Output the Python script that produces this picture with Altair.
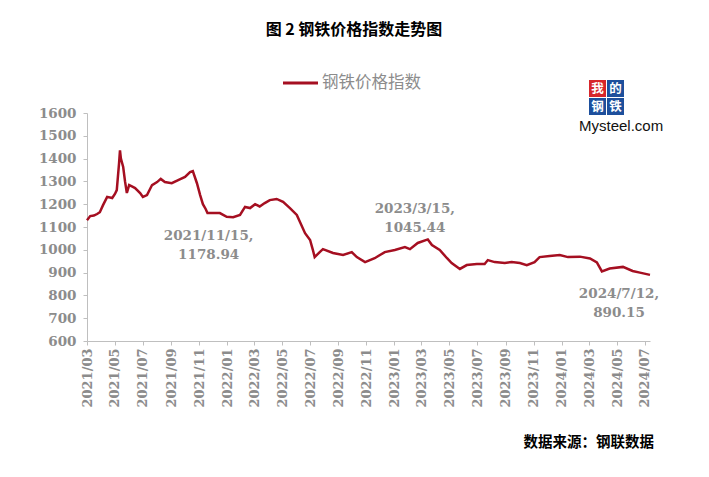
import altair as alt
import pandas as pd

dates = ["2021-03-01","2021-03-08","2021-03-16","2021-03-23","2021-03-29","2021-04-05","2021-04-14","2021-04-25",
 "2021-05-01","2021-05-05","2021-05-10","2021-05-12","2021-05-14","2021-05-19","2021-05-23","2021-05-27",
 "2021-06-01","2021-06-07","2021-06-14","2021-06-25","2021-07-01","2021-07-10","2021-07-21","2021-08-01",
 "2021-08-09","2021-08-18","2021-09-02","2021-09-16","2021-10-01","2021-10-12","2021-10-18","2021-10-27",
 "2021-11-03","2021-11-09","2021-11-15","2021-11-19","2021-12-02","2021-12-16","2021-12-31","2022-01-14",
 "2022-01-29","2022-02-09","2022-02-20","2022-03-03","2022-03-13","2022-03-24","2022-04-04","2022-04-19",
 "2022-05-03","2022-05-18","2022-06-02","2022-06-20","2022-07-01","2022-07-07","2022-07-11","2022-07-22",
 "2022-07-29","2022-08-20","2022-09-11","2022-09-30","2022-10-11","2022-10-29","2022-11-19","2022-12-11",
 "2023-01-02","2023-01-24","2023-02-04","2023-02-21","2023-03-15","2023-03-24","2023-04-10","2023-04-26",
 "2023-05-06","2023-05-24","2023-06-08","2023-06-30","2023-07-17","2023-07-24","2023-08-08","2023-08-30",
 "2023-09-14","2023-10-02","2023-10-17","2023-11-03","2023-11-14","2023-12-06","2023-12-28","2024-01-15",
 "2024-02-10","2024-03-03","2024-03-18","2024-03-29","2024-04-15","2024-05-14","2024-06-04","2024-06-20",
 "2024-07-12"]
values = [1130,1148,1150,1157,1165,1196,1232,1227,
 1245,1262,1380,1436,1400,1363,1300,1249,
 1284,1278,1271,1249,1232,1240,1284,1297,
 1311,1297,1292,1306,1320,1341,1345,1292,
 1240,1200,1178.94,1161,1161,1161,1145,1143,
 1153,1188,1183,1200,1190,1205,1218,1223,
 1210,1183,1153,1073,1043,1000,968,990,
 1003,986,977,990,968,946,963,990,
 999,1012,1003,1030,1045.44,1021,999,963,
 942,916,933,938,938,955,946,942,
 946,942,933,946,968,973,977,968,
 970,962,945,905,918,925,907,900,
 890.15]

ann_dates = ["2021-11-15", "2023-03-15", "2024-07-12"]
ann_values = [1178.94, 1045.44, 890.15]
ann_texts = ["2021/11/15,\n1178.94", "2023/3/15,\n1045.44", "2024/7/12,\n890.15"]

y_ticks = [600, 700, 800, 900, 1000, 1100, 1200, 1300, 1400, 1500, 1600]
x_tick_months = [(2021, 3), (2021, 5), (2021, 7), (2021, 9), (2021, 11), (2022, 1), (2022, 3), (2022, 5),
                 (2022, 7), (2022, 9), (2022, 11), (2023, 1), (2023, 3), (2023, 5), (2023, 7), (2023, 9),
                 (2023, 11), (2024, 1), (2024, 3), (2024, 5), (2024, 7)]

title_text = "图 2 钢铁价格指数走势图"
legend_text = "钢铁价格指数"
source_text = "数据来源：钢联数据"

df = pd.DataFrame({"date": dates, "value": values})
ann = pd.DataFrame({"date": ann_dates, "value": ann_values, "text": ann_texts})
one = pd.DataFrame({"_": [0]})

GRAY = "#8c8c8c"
RED = "#a50f21"
SERIF = "DejaVu Serif"
CJK = "Noto Sans CJK SC"

x_scale = alt.Scale(domain=[alt.DateTime(year=2021, month=3, date=1),
                            alt.DateTime(year=2024, month=7, date=12)])
x_axis = alt.Axis(values=[alt.DateTime(year=y, month=m, date=1) for y, m in x_tick_months],
                  format="%Y/%m", labelAngle=-90, title=None, grid=False,
                  labelFont=SERIF, labelFontWeight="bold", labelFontSize=13,
                  labelColor=GRAY, domainColor="#bfbfbf", tickColor="#bfbfbf",
                  tickSize=4, labelPadding=3, labelOverlap=False)
y_scale = alt.Scale(domain=[600, 1600], nice=False, zero=False)
y_axis = alt.Axis(values=y_ticks, format="d", title=None, grid=False,
                  labelFont=SERIF, labelFontWeight="bold", labelFontSize=13.5,
                  labelColor=GRAY, domainColor="#bfbfbf", tickColor="#bfbfbf",
                  tickSize=4, labelPadding=7)

def xe():
    return alt.X("date:T", scale=x_scale, axis=x_axis)

def ye():
    return alt.Y("value:Q", scale=y_scale, axis=y_axis)

line = alt.Chart(df).mark_line(color=RED, strokeWidth=2.5, interpolate="linear").encode(x=xe(), y=ye())

def ann_layer(i, dx, dy, align="center"):
    return alt.Chart(ann.iloc[[i]]).mark_text(
        font=SERIF, fontWeight="bold", fontSize=13.5, color=GRAY, lineBreak="\n",
        lineHeight=19, align=align, baseline="top", dx=dx, dy=dy
    ).encode(x=xe(), y=ye(), text="text:N")

a1 = ann_layer(0, 3, 20)
a2 = ann_layer(1, -13, -37)
a3 = ann_layer(2, -31, 12)

title = alt.Chart(one).mark_text(font=CJK, fontWeight="bold", fontSize=16, color="#000000",
                                 align="center", baseline="middle").encode(
    x=alt.value(267), y=alt.value(-83), text=alt.value(title_text))

leg_line = alt.Chart(one).mark_rule(color=RED, strokeWidth=3).encode(
    x=alt.value(196), x2=alt.value(231), y=alt.value(-30))
leg_text = alt.Chart(one).mark_text(font=CJK, fontSize=16.5, color=GRAY,
                                    align="left", baseline="middle").encode(
    x=alt.value(235), y=alt.value(-30), text=alt.value(legend_text))

boxes = []
for (x0, y0, col, ch) in [(502, -33, "#d7262b", "我"), (520, -33, "#1d4f9c", "的"),
                          (502, -15, "#1d4f9c", "钢"), (520, -15, "#1d4f9c", "铁")]:
    boxes.append(alt.Chart(one).mark_rect(color=col).encode(
        x=alt.value(x0), x2=alt.value(x0 + 17), y=alt.value(y0), y2=alt.value(y0 + 17)))
    boxes.append(alt.Chart(one).mark_text(font=CJK, fontWeight="bold", fontSize=12.5, color="white",
                                          align="center", baseline="middle").encode(
        x=alt.value(x0 + 8.5), y=alt.value(y0 + 8.5), text=alt.value(ch)))
logo_text = alt.Chart(one).mark_text(font="Liberation Sans", fontSize=15, color="#111111",
                                     align="left", baseline="middle").encode(
    x=alt.value(492), y=alt.value(13), text=alt.value("Mysteel.com"))

source = alt.Chart(one).mark_text(font=CJK, fontWeight="bold", fontSize=14.5, color="#000000",
                                  align="right", baseline="middle").encode(
    x=alt.value(567), y=alt.value(330), text=alt.value(source_text))

chart = alt.layer(line, a1, a2, a3, title, leg_line, leg_text, *boxes, logo_text, source).properties(
    width=563, height=228,
    padding={"left": 79, "top": 105, "right": 50, "bottom": 120},
    autosize=alt.AutoSizeParams(type="none"),
    background="white",
).configure_view(stroke=None)

chart.save("out.html", embed_options={"renderer": "svg", "actions": False})
